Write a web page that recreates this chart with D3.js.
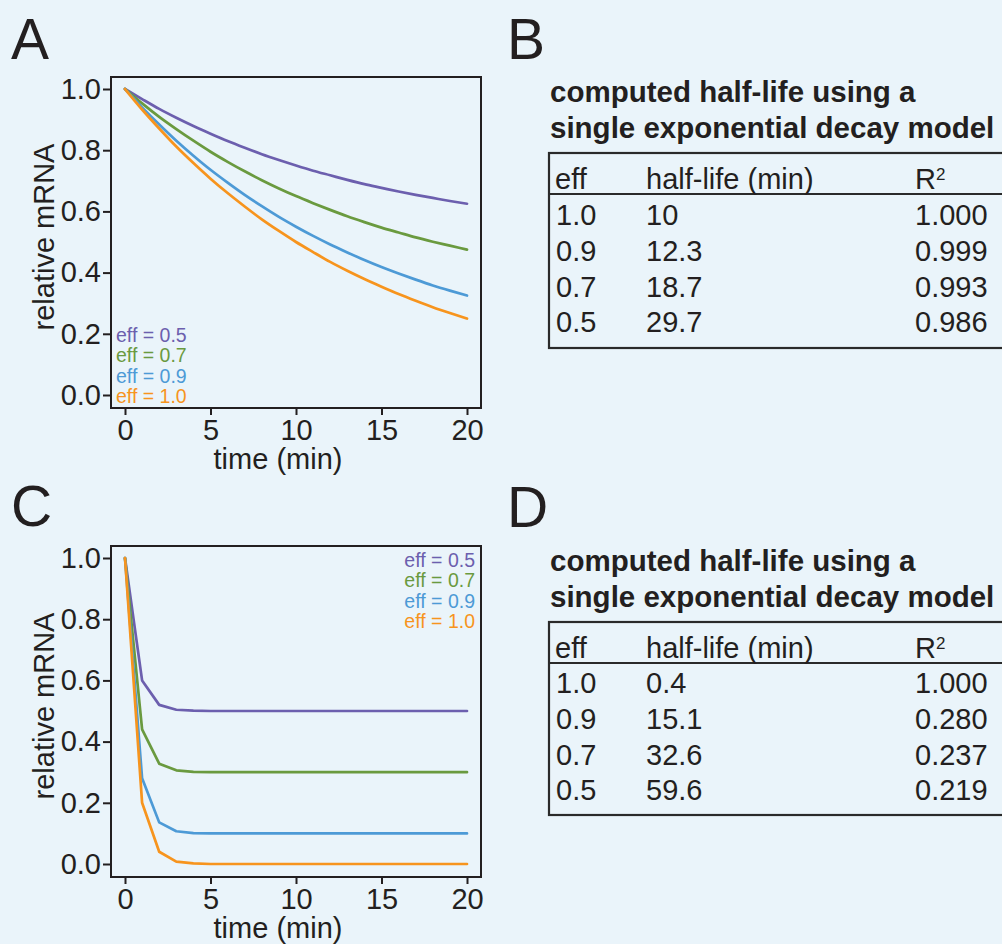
<!DOCTYPE html>
<html>
<head>
<meta charset="utf-8">
<script src="https://cdn.jsdelivr.net/npm/d3@7/dist/d3.min.js"></script>
<style>
  html, body { margin: 0; padding: 0; background: #EAF4FA; }
  svg { display: block; }
  text { font-family: "Liberation Sans", Arial, Helvetica, sans-serif; fill: #231F20; }
</style>
</head>
<body>
<div id="chart"></div>
<script>
// ---------- DATA ----------
const time = [0,1,2,3,4,5,6,7,8,9,10,11,12,13,14,15,16,17,18,19,20];
const effLabels = ["eff = 0.5", "eff = 0.7", "eff = 0.9", "eff = 1.0"];
const seriesColors = ["#6C5FAE", "#6A9A3F", "#4D9AD6", "#F7941D"];

// Panel A values (relative mRNA)
const a_eff05 = [1.000,0.967,0.935,0.906,0.879,0.854,0.830,0.808,0.787,0.768,0.750,0.733,0.718,0.703,0.689,0.677,0.665,0.654,0.644,0.634,0.625];
const a_eff07 = [1.000,0.953,0.909,0.869,0.831,0.795,0.762,0.731,0.702,0.675,0.650,0.627,0.605,0.584,0.565,0.547,0.531,0.515,0.501,0.488,0.475];
const a_eff09 = [1.000,0.940,0.884,0.831,0.782,0.736,0.694,0.654,0.617,0.582,0.550,0.520,0.492,0.466,0.441,0.418,0.397,0.377,0.358,0.341,0.325];
const a_eff10 = [1.000,0.933,0.871,0.812,0.758,0.707,0.660,0.616,0.574,0.536,0.500,0.467,0.435,0.406,0.379,0.354,0.330,0.308,0.287,0.268,0.250];

// Panel C values (relative mRNA)
const c_eff05 = [1.000,0.600,0.520,0.504,0.501,0.500,0.500,0.500,0.500,0.500,0.500,0.500,0.500,0.500,0.500,0.500,0.500,0.500,0.500,0.500,0.500];
const c_eff07 = [1.000,0.440,0.328,0.306,0.301,0.300,0.300,0.300,0.300,0.300,0.300,0.300,0.300,0.300,0.300,0.300,0.300,0.300,0.300,0.300,0.300];
const c_eff09 = [1.000,0.280,0.136,0.107,0.101,0.100,0.100,0.100,0.100,0.100,0.100,0.100,0.100,0.100,0.100,0.100,0.100,0.100,0.100,0.100,0.100];
const c_eff10 = [1.000,0.200,0.040,0.008,0.002,0.000,0.000,0.000,0.000,0.000,0.000,0.000,0.000,0.000,0.000,0.000,0.000,0.000,0.000,0.000,0.000];

const xTicks = [0, 5, 10, 15, 20];
const yTicks = [0.0, 0.2, 0.4, 0.6, 0.8, 1.0];

// Tables
const tableTitle = ["computed half-life using a", "single exponential decay model"];
const tableHeader = ["eff", "half-life (min)", "R"];
const b_eff = ["1.0", "0.9", "0.7", "0.5"];
const b_halfLife = ["10", "12.3", "18.7", "29.7"];
const b_r2 = ["1.000", "0.999", "0.993", "0.986"];
const d_eff = ["1.0", "0.9", "0.7", "0.5"];
const d_halfLife = ["0.4", "15.1", "32.6", "59.6"];
const d_r2 = ["1.000", "0.280", "0.237", "0.219"];

// ---------- DRAW ----------
const W = 1002, H = 944;
const svg = d3.select("#chart").append("svg").attr("width", W).attr("height", H);
svg.append("rect").attr("width", W).attr("height", H).attr("fill", "#EAF4FA");

const INK = "#231F20";
const FONT = 29;

function panelLabel(txt, x, y) {
  svg.append("text").attr("x", x).attr("y", y).attr("font-size", 57).text(txt);
}

function linePanel(cfg) {
  const g = svg.append("g");
  const x = d3.scaleLinear().domain([0, 20]).range([cfg.x0, cfg.x1]);
  const y = d3.scaleLinear().domain([0, 1]).range([cfg.y0, cfg.y1]);

  // series
  const line = d3.line().x((d, i) => x(time[i])).y(d => y(d)).curve(cfg.curve);
  cfg.series.forEach((s, i) => {
    g.append("path").datum(s).attr("d", line)
      .attr("fill", "none").attr("stroke", seriesColors[i])
      .attr("stroke-width", 2.7).attr("stroke-linejoin", "round").attr("stroke-linecap", "round");
  });

  // box
  g.append("rect").attr("x", cfg.bx0).attr("y", cfg.by0)
    .attr("width", cfg.bx1 - cfg.bx0).attr("height", cfg.by1 - cfg.by0)
    .attr("fill", "none").attr("stroke", INK).attr("stroke-width", 2);

  // y axis
  const ya = g.append("g").attr("transform", `translate(${cfg.bx0},0)`)
    .call(d3.axisLeft(y).tickValues(yTicks).tickFormat(d3.format(".1f")).tickSize(8).tickPadding(2));
  ya.select(".domain").remove();
  ya.selectAll("line").attr("stroke", INK).attr("stroke-width", 2);
  ya.selectAll("text").attr("font-size", FONT).attr("fill", INK)
    .attr("font-family", "Liberation Sans, Arial, sans-serif");

  // x axis
  const xa = g.append("g").attr("transform", `translate(0,${cfg.by1})`)
    .call(d3.axisBottom(x).tickValues(xTicks).tickSize(7).tickPadding(4));
  xa.select(".domain").remove();
  xa.selectAll("line").attr("stroke", INK).attr("stroke-width", 2);
  xa.selectAll("text").attr("font-size", FONT).attr("fill", INK)
    .attr("font-family", "Liberation Sans, Arial, sans-serif");

  // titles
  g.append("text").attr("x", 278).attr("y", cfg.xTitleY).attr("text-anchor", "middle")
    .attr("font-size", FONT).text("time (min)");
  g.append("text").attr("transform", `translate(54,${cfg.yTitleY}) rotate(-90)`)
    .attr("text-anchor", "middle").attr("font-size", FONT).text("relative mRNA");

  // legend
  effLabels.forEach((t, i) => {
    g.append("text").attr("x", cfg.legX).attr("y", cfg.legY + i * 20.4)
      .attr("text-anchor", cfg.legAnchor).attr("font-size", 19.5)
      .style("fill", seriesColors[i]).text(t);
  });
}

function tablePanel(cfg) {
  const g = svg.append("g");
  tableTitle.forEach((t, i) => {
    g.append("text").attr("x", 550).attr("y", cfg.titleY[i])
      .attr("font-size", 29.5).attr("font-weight", "bold").text(t);
  });
  g.append("rect").attr("x", 549).attr("y", cfg.boxTop)
    .attr("width", 470).attr("height", cfg.boxBottom - cfg.boxTop)
    .attr("fill", "none").attr("stroke", "#2a2a2a").attr("stroke-width", 2.2);
  g.append("line").attr("x1", 549).attr("x2", 1010).attr("y1", cfg.sepY).attr("y2", cfg.sepY)
    .attr("stroke", "#2a2a2a").attr("stroke-width", 2.2);

  const colX = [555, 646, 915];
  g.append("text").attr("x", colX[0]).attr("y", cfg.headerY).attr("font-size", FONT).text(tableHeader[0]);
  g.append("text").attr("x", colX[1]).attr("y", cfg.headerY).attr("font-size", FONT).text(tableHeader[1]);
  const r = g.append("text").attr("x", colX[2]).attr("y", cfg.headerY).attr("font-size", FONT);
  r.append("tspan").text(tableHeader[2]);
  r.append("tspan").attr("dy", -9).attr("font-size", 17).text("2");

  cfg.eff.forEach((e, i) => {
    const yy = cfg.rowY[i];
    g.append("text").attr("x", colX[0] + 1).attr("y", yy).attr("font-size", FONT).text(e);
    g.append("text").attr("x", colX[1]).attr("y", yy).attr("font-size", FONT).text(cfg.hl[i]);
    g.append("text").attr("x", colX[2]).attr("y", yy).attr("font-size", FONT).text(cfg.r2[i]);
  });
}

// Panel A
panelLabel("A", 11, 59);
linePanel({
  x0: 125, x1: 467, y0: 395, y1: 89,
  bx0: 111, bx1: 481, by0: 77, by1: 408,
  series: [a_eff05, a_eff07, a_eff09, a_eff10],
  curve: d3.curveMonotoneX,
  xTitleY: 469, yTitleY: 237,
  legX: 116, legY: 342, legAnchor: "start"
});

// Panel B
panelLabel("B", 507, 59);
tablePanel({
  titleY: [102, 138], boxTop: 153, boxBottom: 348, sepY: 194, headerY: 189,
  rowY: [225, 261, 297, 332],
  eff: b_eff, hl: b_halfLife, r2: b_r2
});

// Panel C
panelLabel("C", 11, 526);
linePanel({
  x0: 125, x1: 467, y0: 864, y1: 558,
  bx0: 111, bx1: 481, by0: 546, by1: 877,
  series: [c_eff05, c_eff07, c_eff09, c_eff10],
  curve: d3.curveLinear,
  xTitleY: 938, yTitleY: 706,
  legX: 475, legY: 567, legAnchor: "end"
});

// Panel D
panelLabel("D", 507, 527);
tablePanel({
  titleY: [571, 607], boxTop: 622, boxBottom: 815, sepY: 663, headerY: 658,
  rowY: [693, 729, 765, 800],
  eff: d_eff, hl: d_halfLife, r2: d_r2
});
</script>
</body>
</html>
